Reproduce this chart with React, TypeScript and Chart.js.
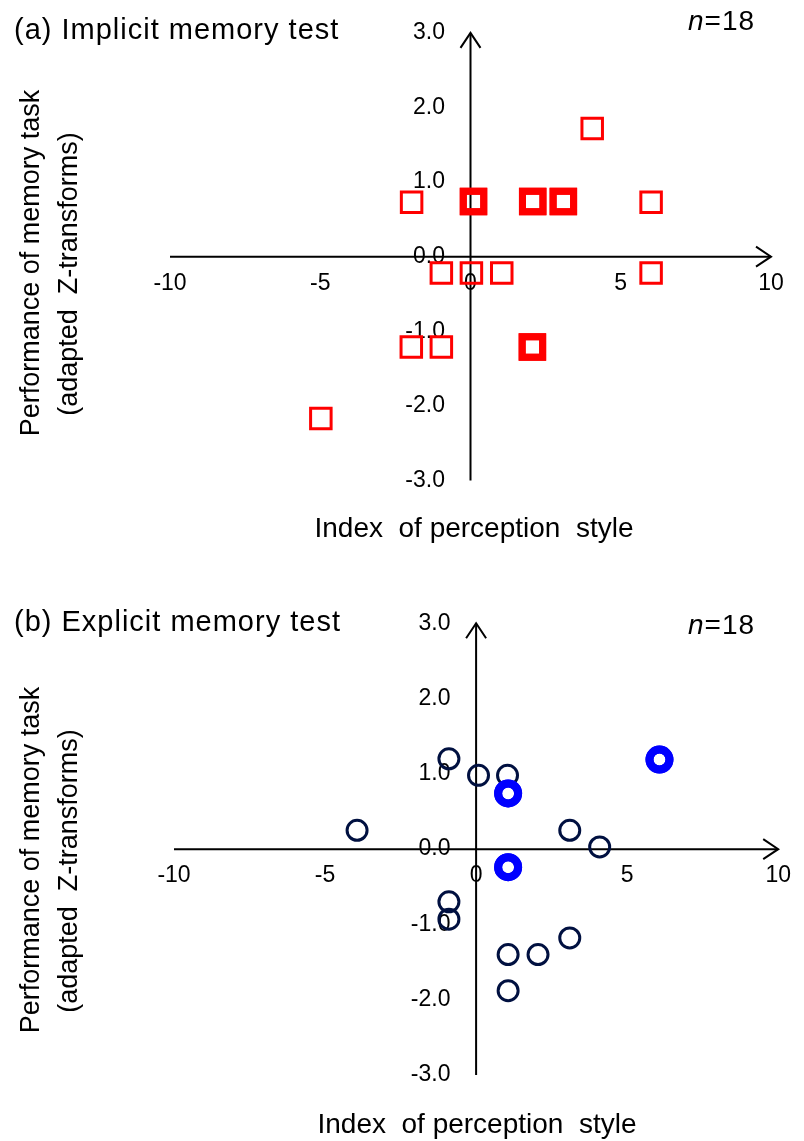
import React, { useEffect, useRef } from "react";
import { Chart, registerables } from "chart.js";

Chart.register(...registerables);

// ---- axis ticks ----
const X_TICKS = [-10, -5, 0, 5, 10];
const X_TICK_LABELS = ["-10", "-5", "0", "5", "10"];
const Y_TICKS = [-3, -2, -1, 0, 1, 2, 3];
const Y_TICK_LABELS = ["-3.0", "-2.0", "-1.0", "0.0", "1.0", "2.0", "3.0"];

// ---- (a) Implicit memory test: index of perception style vs adapted Z ----
const IMPLICIT_X = [-1.96, 0.1, 0.1, 2.07, 2.07, 3.09, 3.09, 4.05, 6.01, -0.97, 0.03, 1.04, 6.01, -1.97, -0.97, 2.06, 2.06, -4.98];
const IMPLICIT_Y = [0.73, 0.74, 0.74, 0.74, 0.74, 0.74, 0.74, 1.72, 0.73, -0.22, -0.22, -0.22, -0.22, -1.21, -1.21, -1.21, -1.21, -2.17];

// ---- (b) Explicit memory test ----
const EXPLICIT_X = [-0.9, 0.08, 1.04, 1.06, 1.06, 6.07, 6.07, -3.94, 3.1, 4.09, 1.06, 1.06, -0.9, -0.9, 1.06, 2.05, 3.1, 1.06];
const EXPLICIT_Y = [1.2, 0.98, 0.98, 0.74, 0.74, 1.19, 1.19, 0.25, 0.25, 0.03, -0.24, -0.24, -0.7, -0.93, -1.4, -1.4, -1.18, -1.88];

const FONT = "'Liberation Sans', Arial, Helvetica, sans-serif";

function multiplicity(xs: number[], ys: number[], i: number) {
  let c = 0;
  for (let j = 0; j < xs.length; j++) if (xs[j] === xs[i] && ys[j] === ys[i]) c++;
  return c;
}

const crossAxesPlugin = {
  id: "crossAxes",
  beforeDatasetsDraw(chart: any) {
    const { ctx, scales } = chart;
    const x = scales.x;
    const y = scales.y;
    const x0 = x.getPixelForValue(0);
    const y0 = y.getPixelForValue(0);
    const xl = x.getPixelForValue(x.min);
    const xr = x.getPixelForValue(x.max);
    const yt = y.getPixelForValue(y.max);
    const yb = y.getPixelForValue(y.min);
    ctx.save();
    ctx.strokeStyle = "#000";
    ctx.lineWidth = 2;
    ctx.beginPath();
    ctx.moveTo(xl, y0);
    ctx.lineTo(xr, y0);
    ctx.moveTo(x0, yb);
    ctx.lineTo(x0, yt);
    ctx.stroke();
    ctx.beginPath();
    ctx.moveTo(xr - 15, y0 - 10);
    ctx.lineTo(xr, y0);
    ctx.lineTo(xr - 15, y0 + 10);
    ctx.moveTo(x0 - 10, yt + 15);
    ctx.lineTo(x0, yt);
    ctx.lineTo(x0 + 10, yt + 15);
    ctx.stroke();
    ctx.restore();
  },
};

type PanelText = {
  title: string;
  titleX: number;
  titleY: number;
  nX: number;
  nY: number;
  xTitle: string;
  xTitleCx: number;
  xTitleY: number;
  yTitle1: string;
  yTitle1X: number;
  yTitle1Cy: number;
  yTitle2: string;
  yTitle2X: number;
  yTitle2Cy: number;
};

function makeTextPlugin(t: PanelText, offsetTop: number) {
  return {
    id: "panelText",
    afterDraw(chart: any) {
      const ctx = chart.ctx as CanvasRenderingContext2D;
      ctx.save();
      ctx.fillStyle = "#000";
      ctx.textBaseline = "alphabetic";
      // title
      ctx.textAlign = "left";
      ctx.font = `29px ${FONT}`;
      (ctx as any).letterSpacing = "1px";
      ctx.fillText(t.title, t.titleX, t.titleY - offsetTop);
      // n=18
      ctx.font = `italic 28px ${FONT}`;
      ctx.fillText("n", t.nX, t.nY - offsetTop);
      const nw = ctx.measureText("n").width;
      ctx.font = `28px ${FONT}`;
      ctx.fillText("=18", t.nX + nw, t.nY - offsetTop);
      (ctx as any).letterSpacing = "0px";
      // x axis title
      ctx.textAlign = "center";
      ctx.font = `28px ${FONT}`;
      ctx.fillText(t.xTitle, t.xTitleCx, t.xTitleY - offsetTop);
      // y axis title (two rotated lines)
      ctx.font = `27px ${FONT}`;
      ctx.save();
      ctx.translate(t.yTitle1X, t.yTitle1Cy - offsetTop);
      ctx.rotate(-Math.PI / 2);
      ctx.fillText(t.yTitle1, 0, 0);
      ctx.restore();
      ctx.save();
      ctx.translate(t.yTitle2X, t.yTitle2Cy - offsetTop);
      ctx.rotate(-Math.PI / 2);
      ctx.fillText(t.yTitle2, 0, 0);
      ctx.restore();
      ctx.restore();
    },
  };
}

type PanelProps = {
  top: number;
  height: number;
  xs: number[];
  ys: number[];
  pointStyle: string;
  radius: number;
  singleColor: string;
  doubleColor: string;
  singleWidth: number;
  doubleWidth: number;
  padding: { left: number; right: number; top: number; bottom: number };
  text: PanelText;
};

function Panel(p: PanelProps) {
  const ref = useRef<HTMLCanvasElement | null>(null);
  useEffect(() => {
    if (!ref.current) return;
    const pts = p.xs.map((x, i) => ({ x, y: p.ys[i] }));
    const chart = new Chart(ref.current, {
      type: "scatter",
      data: {
        datasets: [
          {
            data: pts,
            showLine: false,
            pointStyle: p.pointStyle as any,
            pointRadius: p.radius,
            pointBackgroundColor: "rgba(0,0,0,0)",
            pointBorderColor: (c: any) =>
              multiplicity(p.xs, p.ys, c.dataIndex) > 1 ? p.doubleColor : p.singleColor,
            pointBorderWidth: (c: any) =>
              multiplicity(p.xs, p.ys, c.dataIndex) > 1 ? p.doubleWidth : p.singleWidth,
            clip: false as any,
          } as any,
        ],
      },
      options: {
        animation: false,
        responsive: false,
        devicePixelRatio: 1,
        events: [],
        layout: { padding: p.padding },
        plugins: {
          legend: { display: false },
          tooltip: { enabled: false },
          title: { display: false },
        },
        scales: {
          x: {
            type: "linear",
            min: -10,
            max: 10,
            position: { y: 0 } as any,
            grid: { display: false, drawTicks: false },
            border: { display: false },
            afterBuildTicks: (s: any) => {
              s.ticks = X_TICKS.map((v) => ({ value: v }));
            },
            ticks: {
              autoSkip: false,
              maxRotation: 0,
              padding: 13,
              color: "#000",
              font: { family: FONT, size: 23 },
              callback: (v: any) => X_TICK_LABELS[X_TICKS.indexOf(Number(v))],
            },
          },
          y: {
            type: "linear",
            min: -3,
            max: 3,
            position: { x: -0.85 } as any,
            grid: { display: false, drawTicks: false },
            border: { display: false },
            afterBuildTicks: (s: any) => {
              s.ticks = Y_TICKS.map((v) => ({ value: v }));
            },
            ticks: {
              autoSkip: false,
              padding: 0,
              color: "#000",
              font: { family: FONT, size: 23 },
              callback: (v: any) => Y_TICK_LABELS[Y_TICKS.indexOf(Number(v))],
            },
          },
        },
      } as any,
      plugins: [crossAxesPlugin, makeTextPlugin(p.text, p.top)],
    });
    return () => chart.destroy();
  }, []);
  return (
    <canvas
      ref={ref}
      width={804}
      height={p.height}
      style={{ position: "absolute", left: 0, top: p.top, width: 804, height: p.height }}
    />
  );
}

export default function App() {
  return (
    <div style={{ position: "absolute", left: 0, top: 0, width: 804, height: 1141, background: "#fff" }}>
      <Panel
        top={0}
        height={570}
        xs={IMPLICIT_X}
        ys={IMPLICIT_Y}
        pointStyle="rect"
        radius={14.5}
        singleColor="#ff0000"
        doubleColor="#ff0000"
        singleWidth={3}
        doubleWidth={7}
        padding={{ left: 170, right: 33, top: 32.9, bottom: 89.5 }}
        text={{
          title: "(a) Implicit memory test",
          titleX: 14,
          titleY: 39,
          nX: 688,
          nY: 30,
          xTitle: "Index  of perception  style",
          xTitleCx: 474,
          xTitleY: 537,
          yTitle1: "Performance of memory task",
          yTitle1X: 38.5,
          yTitle1Cy: 263,
          yTitle2: "(adapted  Z-transforms)",
          yTitle2X: 76.5,
          yTitle2Cy: 274,
        }}
      />
      <Panel
        top={570}
        height={571}
        xs={EXPLICIT_X}
        ys={EXPLICIT_Y}
        pointStyle="circle"
        radius={10}
        singleColor="#001040"
        doubleColor="#0000ff"
        singleWidth={3}
        doubleWidth={8}
        padding={{ left: 174, right: 20, top: 53.3, bottom: 66 }}
        text={{
          title: "(b) Explicit memory test",
          titleX: 14,
          titleY: 631,
          nX: 688,
          nY: 634,
          xTitle: "Index  of perception  style",
          xTitleCx: 477,
          xTitleY: 1133,
          yTitle1: "Performance of memory task",
          yTitle1X: 38.5,
          yTitle1Cy: 860,
          yTitle2: "(adapted  Z-transforms)",
          yTitle2X: 76.5,
          yTitle2Cy: 871,
        }}
      />
    </div>
  );
}
